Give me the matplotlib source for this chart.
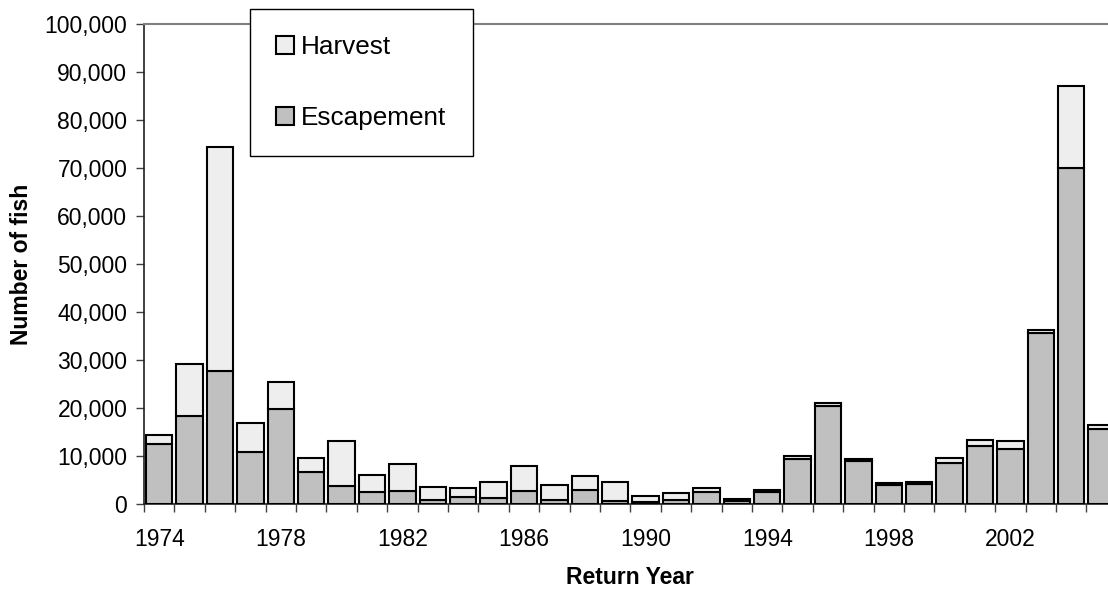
import matplotlib
matplotlib.use("Agg")
import matplotlib.pyplot as plt
from matplotlib.ticker import FuncFormatter
import numpy as np

years = list(range(1974, 2006))
escapement = [12400, 18300, 27800, 10800, 19700, 6700, 3750, 2400, 2700, 900,
              1500, 1200, 2650, 850, 3000, 600, 400, 850, 2400, 650,
              2500, 9450, 20500, 8900, 3900, 4100, 8600, 12000, 11500, 35700,
              69900, 15600]
total = [14300, 29100, 74400, 16800, 25400, 9600, 13100, 6000, 8300, 3500,
         3400, 4500, 7900, 4000, 5800, 4600, 1600, 2200, 3400, 1000,
         3000, 10000, 21000, 9300, 4400, 4600, 9500, 13300, 13100, 36300,
         87000, 16400]
harvest = [t - e for t, e in zip(total, escapement)]
label_years = [1974, 1978, 1982, 1986, 1990, 1994, 1998, 2002]

plt.rcParams['font.family'] = ['Liberation Sans', 'DejaVu Sans']
FS = 16.5

W, H = 1108, 591
fig = plt.figure(figsize=(W / 100, H / 100), dpi=100)
slot = 30.4
left_px, bottom_px, top_px = 144, 504, 24
ax_w = 32 * slot
ax = fig.add_axes([left_px / W, (H - bottom_px) / H, ax_w / W, (bottom_px - top_px) / H])

x = np.arange(len(years))
bw = 0.865
ax.bar(x, escapement, width=bw, color='#c0c0c0', edgecolor='black', linewidth=1.5,
       label='Escapement', zorder=3)
ax.bar(x, harvest, width=bw, bottom=escapement, color='#eeeeee', edgecolor='black',
       linewidth=1.5, label='Harvest', zorder=3)

ax.set_xlim(-0.5, 31.5)
ax.set_ylim(0, 100000)
ax.set_yticks(np.arange(0, 100001, 10000))
ax.yaxis.set_major_formatter(FuncFormatter(lambda v, p: f"{int(v):,}"))
ax.tick_params(axis='y', direction='out', length=6, width=1, color='#404040',
               labelsize=FS, pad=6)

ax.set_xticks(np.arange(-0.5, 32, 1))
ax.set_xticklabels([])
ax.tick_params(axis='x', which='major', direction='out', length=6, width=1, color='#404040')
centers = [years.index(y) for y in label_years]
ax.set_xticks(centers, minor=True)
ax.set_xticklabels([str(y) for y in label_years], minor=True)
ax.tick_params(axis='x', which='minor', length=0, labelsize=FS, pad=17)

for s in ['left', 'bottom']:
    ax.spines[s].set_color('#202020')
    ax.spines[s].set_linewidth(1.2)
ax.spines['top'].set_color('#808080')
ax.spines['top'].set_linewidth(1.5)
ax.spines['right'].set_visible(False)

ax.set_ylabel('Number of fish', fontsize=FS, fontweight='bold')
ax.yaxis.set_label_coords(-(144 - 22) / ax_w, 0.5, transform=ax.transAxes)
ax.yaxis.label.set_va('center')
ax.set_xlabel('Return Year', fontsize=FS, fontweight='bold')
ax.xaxis.set_label_coords((630 - left_px) / ax_w, -(577 - bottom_px) / (bottom_px - top_px),
                          transform=ax.transAxes)
ax.xaxis.label.set_va('center')

handles, labels = ax.get_legend_handles_labels()
leg = fig.legend(handles[::-1], labels[::-1], loc='upper left',
                 bbox_to_anchor=(250 / W, 1 - 9 / H), borderaxespad=0,
                 fontsize=18.8, frameon=True, fancybox=False, shadow=False,
                 labelspacing=1.8, handlelength=0.68, handleheight=0.68,
                 handletextpad=0.28, borderpad=1.0)
leg.get_frame().set_edgecolor('black')
leg.get_frame().set_linewidth(1.0)
leg.get_frame().set_alpha(1)

fig.savefig('out.png', dpi=100)
